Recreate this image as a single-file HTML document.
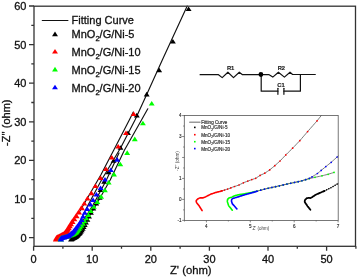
<!DOCTYPE html>
<html><head><meta charset="utf-8"><style>html,body{margin:0;padding:0;background:#fff;width:357px;height:277px;overflow:hidden;font-family:"Liberation Sans", sans-serif;}</style></head>
<body><svg width="357" height="277" viewBox="0 0 357 277" style="display:block;will-change:transform">
<rect width="357" height="277" fill="#fff"/>
<path d="M133.3 112 L129.3 120 L113.8 150 L100.8 175 L84 204 L80 211" fill="none" stroke="#111" stroke-width="1.15" stroke-linejoin="round" stroke-linecap="round" />
<path d="M187.2 6.1 L162.3 60 L146.7 94.4 L135 120 L120.7 147.8 L101.5 180 L88.1 205 L83 215 L78 226 L73 233 L70 236 L69.5 238" fill="none" stroke="#111" stroke-width="1.15" stroke-linejoin="round" stroke-linecap="round" />
<path d="M119 153 L106.4 180 L93 205 L88 213 L82 222 L76 230 L70 234 L64 236 L61 237.5" fill="none" stroke="#111" stroke-width="1.15" stroke-linejoin="round" stroke-linecap="round" />
<path d="M147.8 108.8 L141.5 120 L124.5 150 L110.2 180 L96 205 L90 215 L84 225 L78 232 L72 234.5 L65 236 L61 237.5" fill="none" stroke="#111" stroke-width="1.15" stroke-linejoin="round" stroke-linecap="round" />
<path d="M188.6 6.4L191.55 11L185.65 11ZM172.9 39L175.85 43.6L169.95 43.6ZM159.2 67.7L162.15 72.3L156.25 72.3ZM146.7 91.8L149.65 96.4L143.75 96.4ZM136.8 112.8L139.75 117.4L133.85 117.4ZM128 130.4L130.95 135L125.05 135ZM120.5 145.2L123.45 149.8L117.55 149.8ZM113.6 158.2L116.55 162.8L110.65 162.8ZM108.5 169.6L111.45 174.2L105.55 174.2ZM104.18 179.17L107.13 183.77L101.23 183.77ZM100.5 187.41L103.45 192.01L97.55 192.01ZM99.67 195.11L102.62 199.71L96.72 199.71ZM96.24 200.84L99.19 205.44L93.29 205.44ZM93.35 205.81L96.3 210.41L90.4 210.41ZM90.94 210.12L93.89 214.72L87.99 214.72ZM89.03 213.91L91.98 218.51L86.08 218.51ZM87.4 217.18L90.35 221.78L84.45 221.78ZM85.97 219.98L88.92 224.58L83.02 224.58ZM84.72 222.37L87.67 226.97L81.77 226.97ZM83.64 224.43L86.59 229.03L80.69 229.03ZM82.71 226.2L85.66 230.8L79.76 230.8ZM81.75 227.62L84.7 232.22L78.8 232.22ZM80.88 228.81L83.83 233.41L77.93 233.41ZM80.13 229.84L83.08 234.44L77.18 234.44ZM79.48 230.72L82.43 235.32L76.53 235.32ZM78.82 231.38L81.77 235.98L75.87 235.98ZM78.18 232.02L81.13 236.62L75.23 236.62ZM77.54 232.66L80.49 237.26L74.59 237.26ZM76.91 233.29L79.86 237.89L73.96 237.89ZM76.27 233.93L79.22 238.53L73.32 238.53ZM75.54 234.44L78.49 239.04L72.59 239.04ZM74.75 234.87L77.7 239.47L71.8 239.47ZM73.96 235.29L76.91 239.89L71.01 239.89ZM73.16 235.71L76.11 240.31L70.21 240.31ZM72.38 236.17L75.33 240.77L69.43 240.77ZM71.61 236.63L74.56 241.23L68.66 241.23ZM71 237L73.95 241.6L68.05 241.6Z" fill="#000"/>
<path d="M133.7 111.4L136.65 116L130.75 116ZM126 130.4L128.95 135L123.05 135ZM118.2 144L121.15 148.6L115.25 148.6ZM111.8 154.9L114.75 159.5L108.85 159.5ZM106 166.4L108.95 171L103.05 171ZM100.6 175.4L103.55 180L97.65 180ZM95.5 183.4L98.45 188L92.55 188ZM91.4 190.6L94.35 195.2L88.45 195.2ZM87.5 195.8L90.45 200.4L84.55 200.4ZM84.3 200.8L87.25 205.4L81.35 205.4ZM81.2 205.6L84.15 210.2L78.25 210.2ZM78.3 209.9L81.25 214.5L75.35 214.5ZM75.83 213.54L78.78 218.14L72.88 218.14ZM73.66 216.64L76.61 221.24L70.71 221.24ZM71.78 219.3L74.73 223.9L68.83 223.9ZM70.29 221.66L73.24 226.26L67.34 226.26ZM69.1 223.75L72.05 228.35L66.15 228.35ZM68.08 225.55L71.03 230.15L65.13 230.15ZM67.12 227.05L70.07 231.65L64.17 231.65ZM66.21 228.28L69.16 232.88L63.26 232.88ZM65.43 229.34L68.38 233.94L62.48 233.94ZM64.75 230.25L67.7 234.85L61.8 234.85ZM64.16 231.02L67.11 235.62L61.21 235.62ZM63.37 231.44L66.32 236.04L60.42 236.04ZM62.57 231.86L65.52 236.46L59.62 236.46ZM61.78 232.29L64.73 236.89L58.83 236.89ZM60.98 232.71L63.93 237.31L58.03 237.31ZM60.19 233.13L63.14 237.73L57.24 237.73ZM59.39 233.55L62.34 238.15L56.44 238.15ZM58.59 233.96L61.54 238.56L55.64 238.56ZM57.78 234.36L60.73 238.96L54.83 238.96ZM56.98 234.76L59.93 239.36L54.03 239.36ZM56.37 235.34L59.32 239.94L53.42 239.94ZM56.06 236.19L59.01 240.79L53.11 240.79ZM55.8 236.9L58.75 241.5L52.85 241.5ZM82 205.6L84.95 210.2L79.05 210.2ZM79.1 209.9L82.05 214.5L76.15 214.5ZM76.63 213.54L79.58 218.14L73.68 218.14ZM74.46 216.64L77.41 221.24L71.51 221.24ZM72.58 219.3L75.53 223.9L69.63 223.9ZM71.09 221.66L74.04 226.26L68.14 226.26ZM69.9 223.75L72.85 228.35L66.95 228.35ZM68.88 225.55L71.83 230.15L65.93 230.15ZM67.92 227.05L70.87 231.65L64.97 231.65ZM67.01 228.28L69.96 232.88L64.06 232.88ZM66.23 229.34L69.18 233.94L63.28 233.94ZM65.55 230.25L68.5 234.85L62.6 234.85Z" fill="#ff0000"/>
<path d="M151.7 101L154.65 105.6L148.75 105.6ZM142.9 120.7L145.85 125.3L139.95 125.3ZM134.8 136.6L137.75 141.2L131.85 141.2ZM127.2 150.3L130.15 154.9L124.25 154.9ZM120.3 161.7L123.25 166.3L117.35 166.3ZM114 171.8L116.95 176.4L111.05 176.4ZM108.7 180L111.65 184.6L105.75 184.6ZM104.9 187.6L107.85 192.2L101.95 192.2ZM101.1 194.1L104.05 198.7L98.15 198.7ZM97.3 199.3L100.25 203.9L94.35 203.9ZM93.8 204.2L96.75 208.8L90.85 208.8ZM90.8 208.5L93.75 213.1L87.85 213.1ZM88.32 212.37L91.27 216.97L85.37 216.97ZM86.27 215.76L89.22 220.36L83.32 220.36ZM84.51 218.67L87.46 223.27L81.56 223.27ZM82.97 221.16L85.92 225.76L80.02 225.76ZM81.41 223.13L84.36 227.73L78.46 227.73ZM80.06 224.82L83.01 229.42L77.11 229.42ZM78.94 226.3L81.89 230.9L75.99 230.9ZM77.99 227.59L80.94 232.19L75.04 232.19ZM77.17 228.7L80.12 233.3L74.22 233.3ZM76.34 229.53L79.29 234.13L73.39 234.13ZM75.52 230.12L78.47 234.72L72.57 234.72ZM74.78 230.64L77.73 235.24L71.83 235.24ZM74.05 231.16L77 235.76L71.1 235.76ZM73.24 231.54L76.19 236.14L70.29 236.14ZM72.42 231.91L75.37 236.51L69.47 236.51ZM71.59 232.28L74.54 236.88L68.64 236.88ZM70.77 232.65L73.72 237.25L67.82 237.25ZM69.95 233.01L72.9 237.61L67 237.61ZM69.09 233.27L72.04 237.87L66.14 237.87ZM68.23 233.53L71.18 238.13L65.28 238.13ZM67.36 233.79L70.31 238.39L64.41 238.39ZM66.5 234.05L69.45 238.65L63.55 238.65ZM65.63 234.28L68.58 238.88L62.68 238.88ZM64.76 234.48L67.71 239.08L61.81 239.08ZM63.88 234.68L66.83 239.28L60.93 239.28ZM63 234.89L65.95 239.49L60.05 239.49ZM62.14 235.14L65.09 239.74L59.19 239.74ZM61.31 235.48L64.26 240.08L58.36 240.08ZM60.49 235.83L63.44 240.43L57.54 240.43ZM60.49 236.63L63.44 241.23L57.54 241.23ZM60.8 237L63.75 241.6L57.85 241.6Z" fill="#00ff00"/>
<path d="M117.2 157.1L120.15 161.7L114.25 161.7ZM110.8 167.4L113.75 172L107.85 172ZM105 176.9L107.95 181.5L102.05 181.5ZM100.6 185.4L103.55 190L97.65 190ZM96.4 191.9L99.35 196.5L93.45 196.5ZM93.1 197.4L96.05 202L90.15 202ZM90.4 201.8L93.35 206.4L87.45 206.4ZM87.2 206.3L90.15 210.9L84.25 210.9ZM84.8 210.2L87.75 214.8L81.85 214.8ZM83.06 214.02L86.01 218.62L80.11 218.62ZM81.57 217.31L84.52 221.91L78.62 221.91ZM79.91 219.93L82.86 224.53L76.96 224.53ZM78.4 222.13L81.35 226.73L75.45 226.73ZM77.1 224.02L80.05 228.62L74.15 228.62ZM75.92 225.61L78.87 230.21L72.97 230.21ZM74.87 226.95L77.82 231.55L71.92 231.55ZM73.98 228.1L76.93 232.7L71.03 232.7ZM73.2 229.1L76.15 233.7L70.25 233.7ZM72.54 229.95L75.49 234.55L69.59 234.55ZM71.83 230.54L74.78 235.14L68.88 235.14ZM71.12 231.1L74.07 235.7L68.17 235.7ZM70.42 231.66L73.37 236.26L67.47 236.26ZM69.72 232.23L72.67 236.83L66.77 236.83ZM69.01 232.79L71.96 237.39L66.06 237.39ZM68.31 233.35L71.26 237.95L65.36 237.95ZM67.52 233.74L70.47 238.34L64.57 238.34ZM66.66 234L69.61 238.6L63.71 238.6ZM65.8 234.26L68.75 238.86L62.85 238.86ZM64.93 234.52L67.88 239.12L61.98 239.12ZM64.07 234.78L67.02 239.38L61.12 239.38ZM63.19 234.98L66.14 239.58L60.24 239.58ZM62.32 235.17L65.27 239.77L59.37 239.77ZM61.44 235.37L64.39 239.97L58.49 239.97ZM60.8 235.97L63.75 240.57L57.85 240.57ZM60.96 236.68L63.91 241.28L58.01 241.28ZM61.2 237L64.15 241.6L58.25 241.6Z" fill="#0000ff"/>
<rect x="34" y="6.2" width="321.5" height="240.10000000000002" fill="none" stroke="#333" stroke-width="1.3"/>
<path d="M29 237.6H34M31.3 218.3H34M29 199H34M31.3 179.7H34M29 160.4H34M31.3 141.1H34M29 121.8H34M31.3 102.5H34M29 83.2H34M31.3 63.9H34M29 44.6H34M31.3 25.3H34M29 6H34M33.6 246.3V250.8M62.9 246.3V248.8M92.2 246.3V250.8M121.5 246.3V248.8M150.8 246.3V250.8M180.1 246.3V248.8M209.4 246.3V250.8M238.7 246.3V248.8M268 246.3V250.8M297.3 246.3V248.8M326.6 246.3V250.8M355.9 246.3V248.8" stroke="#333" stroke-width="1.3" fill="none"/>
<text x="26.5" y="241.6" font-size="11" text-anchor="end" fill="#111" stroke="#111" stroke-width="0.3" font-family='"Liberation Sans", sans-serif'>0</text>
<text x="26.5" y="203" font-size="11" text-anchor="end" fill="#111" stroke="#111" stroke-width="0.3" font-family='"Liberation Sans", sans-serif'>10</text>
<text x="26.5" y="164.4" font-size="11" text-anchor="end" fill="#111" stroke="#111" stroke-width="0.3" font-family='"Liberation Sans", sans-serif'>20</text>
<text x="26.5" y="125.8" font-size="11" text-anchor="end" fill="#111" stroke="#111" stroke-width="0.3" font-family='"Liberation Sans", sans-serif'>30</text>
<text x="26.5" y="87.2" font-size="11" text-anchor="end" fill="#111" stroke="#111" stroke-width="0.3" font-family='"Liberation Sans", sans-serif'>40</text>
<text x="26.5" y="48.6" font-size="11" text-anchor="end" fill="#111" stroke="#111" stroke-width="0.3" font-family='"Liberation Sans", sans-serif'>50</text>
<text x="26.5" y="10" font-size="11" text-anchor="end" fill="#111" stroke="#111" stroke-width="0.3" font-family='"Liberation Sans", sans-serif'>60</text>
<text x="33.6" y="263.3" font-size="11" text-anchor="middle" fill="#111" stroke="#111" stroke-width="0.3" font-family='"Liberation Sans", sans-serif'>0</text>
<text x="92.2" y="263.3" font-size="11" text-anchor="middle" fill="#111" stroke="#111" stroke-width="0.3" font-family='"Liberation Sans", sans-serif'>10</text>
<text x="150.8" y="263.3" font-size="11" text-anchor="middle" fill="#111" stroke="#111" stroke-width="0.3" font-family='"Liberation Sans", sans-serif'>20</text>
<text x="209.4" y="263.3" font-size="11" text-anchor="middle" fill="#111" stroke="#111" stroke-width="0.3" font-family='"Liberation Sans", sans-serif'>30</text>
<text x="268" y="263.3" font-size="11" text-anchor="middle" fill="#111" stroke="#111" stroke-width="0.3" font-family='"Liberation Sans", sans-serif'>40</text>
<text x="326.6" y="263.3" font-size="11" text-anchor="middle" fill="#111" stroke="#111" stroke-width="0.3" font-family='"Liberation Sans", sans-serif'>50</text>
<text x="190.8" y="274" font-size="11.3" text-anchor="middle" fill="#111" stroke="#111" stroke-width="0.3" font-family='"Liberation Sans", sans-serif'>Z' (ohm)</text>
<text transform="translate(10.2,122.7) rotate(-90)" font-size="11" text-anchor="middle" fill="#111" stroke="#111" stroke-width="0.3" font-family='"Liberation Sans", sans-serif'>-Z'' (ohm)</text>
<path d="M42.3 20.5 L67.9 20.5" fill="none" stroke="#111" stroke-width="1.2" stroke-linejoin="round" stroke-linecap="round" />
<text x="71.6" y="24.1" font-size="11" fill="#111" stroke="#111" stroke-width="0.3" font-family='"Liberation Sans", sans-serif'>Fitting Curve</text>
<path d="M55 31.6L57.95 36.2L52.05 36.2Z" fill="#000"/>
<text x="71.6" y="38.4" font-size="11" fill="#111" stroke="#111" stroke-width="0.3" font-family='"Liberation Sans", sans-serif'>MnO<tspan font-size="7.5" dy="3">2</tspan><tspan dy="-3">/G/Ni-5</tspan></text>
<path d="M55 49L57.95 53.6L52.05 53.6Z" fill="#ff0000"/>
<text x="71.6" y="56.2" font-size="11" fill="#111" stroke="#111" stroke-width="0.3" font-family='"Liberation Sans", sans-serif'>MnO<tspan font-size="7.5" dy="3">2</tspan><tspan dy="-3">/G/Ni-10</tspan></text>
<path d="M55 66.8L57.95 71.4L52.05 71.4Z" fill="#00ff00"/>
<text x="71.6" y="74" font-size="11" fill="#111" stroke="#111" stroke-width="0.3" font-family='"Liberation Sans", sans-serif'>MnO<tspan font-size="7.5" dy="3">2</tspan><tspan dy="-3">/G/Ni-15</tspan></text>
<path d="M55 84.7L57.95 89.3L52.05 89.3Z" fill="#0000ff"/>
<text x="71.6" y="92" font-size="11" fill="#111" stroke="#111" stroke-width="0.3" font-family='"Liberation Sans", sans-serif'>MnO<tspan font-size="7.5" dy="3">2</tspan><tspan dy="-3">/G/Ni-20</tspan></text>
<path d="M200.1 74.7 L218.5 74.7 L222.2 77.6 L227.9 72.2 L233.5 77.6 L239.3 72.2 L242.5 74.7 L261 74.6 L268.7 74.5 L272.8 77.1 L278.4 72.2 L284.4 77.1 L290 72.2 L292.6 74.5 L315.3 74.5" fill="none" stroke="#111" stroke-width="1.2" stroke-linejoin="round" stroke-linecap="round" />
<path d="M261.2 74.5 L261.2 91.2 L277.9 91.2" fill="none" stroke="#111" stroke-width="1.2" stroke-linejoin="round" stroke-linecap="round" />
<path d="M283.9 91.2 L300.4 91.2 L300.4 74.5" fill="none" stroke="#111" stroke-width="1.2" stroke-linejoin="round" stroke-linecap="round" />
<path d="M277.9 88.3 L277.9 94.3" fill="none" stroke="#111" stroke-width="1.2" stroke-linejoin="round" stroke-linecap="round" />
<path d="M283.9 88.3 L283.9 94.3" fill="none" stroke="#111" stroke-width="1.2" stroke-linejoin="round" stroke-linecap="round" />
<circle cx="260.9" cy="74.5" r="2.4" fill="#000"/>
<text x="230.6" y="69.7" font-size="5.8" font-weight="bold" text-anchor="middle" fill="#222" stroke="#222" stroke-width="0.15" font-family='"Liberation Sans", sans-serif'>R1</text>
<text x="281.4" y="69.5" font-size="5.8" font-weight="bold" text-anchor="middle" fill="#222" stroke="#222" stroke-width="0.15" font-family='"Liberation Sans", sans-serif'>R2</text>
<text x="281" y="86.6" font-size="5.8" font-weight="bold" text-anchor="middle" fill="#222" stroke="#222" stroke-width="0.15" font-family='"Liberation Sans", sans-serif'>C1</text>
<path d="M220.08 191.4 L222.15 190.78 L224.22 190.16 L226.27 189.49 L228.32 188.82 L230.34 188.06 L232.35 187.27 L234.38 186.54 L236.42 185.86 L238.47 185.18 L240.43 184.28 L242.36 183.32 L244.32 182.41 L246.34 181.65 L248.36 180.89 L250.38 180.13 L252.41 179.4 L254.45 178.72 L256.4 177.84 L258.21 176.65 L260.01 175.46 L261.95 174.53 L263.91 173.62 L265.77 172.54 L267.56 171.34 L269.35 170.13 L271.04 168.79 L272.71 167.42 L274.37 166.05 L275.99 164.62 L277.59 163.18 L279.19 161.73 L280.74 160.22 L282.22 158.66 L283.71 157.1 L285.2 155.53 L286.72 154 L288.25 152.48 L289.79 150.97 L291.33 149.45 L292.86 147.93 L294.35 146.38 L295.85 144.82 L297.34 143.26 L298.83 141.71 L300.3 140.12 L301.7 138.48 L303.11 136.84 L304.51 135.21 L305.91 133.57 L307.32 131.93 L308.74 130.3 L310.16 128.68 L311.59 127.06 L313.02 125.44 L314.44 123.82 L315.87 122.2 L317.28 120.57 L318.62 118.88 L319.96 117.19 L321.3 115.5" fill="none" stroke="#6a6a6a" stroke-width="0.9" stroke-linejoin="round" stroke-linecap="round" />
<path d="M202.1 210.6 L201.75 210.04 L201.39 209.47 L201.04 208.91 L200.68 208.35 L200.33 207.79 L199.97 207.22 L199.62 206.66 L199.26 206.1 L198.86 205.56 L198.46 205.04 L198.05 204.51 L197.64 203.98 L197.24 203.46 L196.83 202.93 L196.47 202.38 L196.32 201.73 L196.17 201.08 L196.34 200.51 L196.76 200 L197.18 199.48 L197.65 199.02 L198.24 198.71 L198.83 198.41 L199.42 198.1 L200.04 197.9 L200.7 197.9 L201.37 197.9 L202.03 197.9 L202.7 197.9 L203.32 197.66 L203.94 197.43 L204.56 197.19 L205.19 196.96 L205.8 196.7 L206.39 196.4 L206.99 196.11 L207.59 195.81 L208.18 195.51 L208.78 195.21 L209.37 194.91 L209.97 194.62 L210.58 194.35 L211.2 194.11 L211.82 193.87 L212.44 193.63 L213.05 193.38 L213.67 193.14 L214.29 192.9 L214.92 192.67 L215.57 192.52 L216.21 192.36 L216.86 192.21 L217.51 192.05 L218.16 191.9 L218.8 191.74 L219.45 191.59 L220.09 191.4 L220.72 191.21 L221.36 191.02 L222 190.83" fill="none" stroke="#ff0000" stroke-width="1.6" stroke-linejoin="round" stroke-linecap="round" />
<circle cx="222" cy="190.83" r="0.85" fill="#ff0000"/><circle cx="224.5" cy="190.07" r="0.85" fill="#ff0000"/><circle cx="227.6" cy="189.06" r="0.85" fill="#ff0000"/><circle cx="230.8" cy="187.88" r="0.85" fill="#ff0000"/><circle cx="234.5" cy="186.5" r="0.85" fill="#ff0000"/><circle cx="239" cy="185" r="0.85" fill="#ff0000"/><circle cx="243.4" cy="182.8" r="0.85" fill="#ff0000"/><circle cx="247.8" cy="181.1" r="0.85" fill="#ff0000"/><circle cx="251.8" cy="179.6" r="0.85" fill="#ff0000"/><circle cx="255.7" cy="178.3" r="0.85" fill="#ff0000"/><circle cx="260.1" cy="175.4" r="0.85" fill="#ff0000"/><circle cx="264.8" cy="173.2" r="0.85" fill="#ff0000"/><circle cx="269.7" cy="169.9" r="0.85" fill="#ff0000"/><circle cx="274.8" cy="165.7" r="0.85" fill="#ff0000"/><circle cx="280" cy="161" r="0.85" fill="#ff0000"/><circle cx="285.8" cy="154.9" r="0.85" fill="#ff0000"/><circle cx="292.6" cy="148.2" r="0.85" fill="#ff0000"/><circle cx="299.8" cy="140.7" r="0.85" fill="#ff0000"/><circle cx="307.6" cy="131.6" r="0.85" fill="#ff0000"/><circle cx="317.1" cy="120.8" r="0.85" fill="#ff0000"/>
<path d="M253.05 192.09 L254.4 191.77 L255.76 191.46 L257.11 191.14 L258.45 190.79 L259.8 190.43 L261.14 190.07 L262.48 189.72 L263.83 189.36 L265.17 189.01 L266.51 188.66 L267.86 188.34 L269.22 188.04 L270.58 187.75 L271.94 187.46 L273.29 187.16 L274.65 186.87 L276.01 186.58 L277.37 186.27 L278.72 185.96 L280.08 185.66 L281.43 185.35 L282.79 185.05 L284.14 184.74 L285.49 184.43 L286.85 184.12 L288.2 183.81 L289.56 183.5 L290.91 183.21 L292.27 182.92 L293.63 182.63 L294.99 182.34 L296.35 182.06 L297.71 181.77 L299.07 181.48 L300.43 181.19 L301.76 180.79 L303.09 180.4 L304.42 180 L305.75 179.6 L307.08 179.2 L308.42 178.83 L309.77 178.51 L311.13 178.2 L312.48 177.88 L313.83 177.57 L315.19 177.26 L316.54 176.97 L317.9 176.68 L319.26 176.39 L320.62 176.1 L321.98 175.8 L323.33 175.47 L324.68 175.14 L326.03 174.81 L327.37 174.48 L328.71 174.1 L330.03 173.68 L331.36 173.25 L332.68 172.83 L334 172.4" fill="none" stroke="#6a6a6a" stroke-width="0.9" stroke-linejoin="round" stroke-linecap="round" />
<path d="M255.09 191.84 L256.56 191.38 L258.04 190.93 L259.52 190.49 L261.01 190.1 L262.5 189.71 L263.99 189.32 L265.48 188.92 L266.98 188.53 L268.48 188.2 L269.99 187.88 L271.5 187.55 L273.01 187.23 L274.51 186.9 L276.02 186.57 L277.53 186.23 L279.03 185.89 L280.53 185.56 L282.04 185.22 L283.54 184.88 L285.05 184.53 L286.55 184.19 L288.06 183.84 L289.56 183.5 L291.07 183.17 L292.58 182.86 L294.09 182.54 L295.59 182.22 L297.1 181.9 L298.61 181.58 L300.12 181.26 L301.61 180.84 L303.08 180.4 L304.56 179.96 L306.04 179.52 L307.52 179.07 L308.93 178.47 L310.3 177.77 L311.68 177.07 L313 176.27 L314.3 175.45 L315.61 174.63 L316.91 173.81 L318.15 172.89 L319.35 171.91 L320.54 170.94 L321.73 169.96 L322.92 168.98 L324.11 167.99 L325.3 167.01 L326.5 166.04 L327.71 165.08 L328.91 164.12 L330.12 163.16 L331.32 162.19 L332.47 161.16 L333.62 160.13 L334.76 159.1 L335.91 158.07 L337.06 157.04 L338.2 156" fill="none" stroke="#6a6a6a" stroke-width="0.9" stroke-linejoin="round" stroke-linecap="round" />
<path d="M232.3 210.2 L231.87 209.66 L231.44 209.13 L231.01 208.59 L230.58 208.06 L230.15 207.52 L229.72 206.99 L229.29 206.45 L228.86 205.92 L228.52 205.33 L228.31 204.68 L228.1 204.03 L227.89 203.37 L227.69 202.72 L227.48 202.06 L227.31 201.4 L227.41 200.72 L227.5 200.04 L227.59 199.36 L228.06 198.87 L228.56 198.41 L229.08 197.98 L229.74 197.78 L230.4 197.59 L231.06 197.4 L231.71 197.16 L232.33 196.87 L232.95 196.59 L233.58 196.3 L234.2 196.01 L234.83 195.73 L235.47 195.51 L236.14 195.35 L236.81 195.18 L237.48 195.02 L238.14 194.86 L238.81 194.7 L239.49 194.6 L240.17 194.5 L240.85 194.4 L241.53 194.3 L242.21 194.2 L242.89 194.11 L243.57 194.01 L244.25 193.91 L244.92 193.77 L245.6 193.64 L246.27 193.5 L246.94 193.36 L247.62 193.23 L248.29 193.09 L248.96 192.96 L249.63 192.82 L250.31 192.68 L250.98 192.55 L251.65 192.41 L252.32 192.26 L252.99 192.1 L253.66 191.94 L254.33 191.79 L255 191.63" fill="none" stroke="#00ff00" stroke-width="1.6" stroke-linejoin="round" stroke-linecap="round" />
<circle cx="256.85" cy="191.2" r="0.85" fill="#00ff00"/><circle cx="260.57" cy="190.22" r="0.85" fill="#00ff00"/><circle cx="264.3" cy="189.24" r="0.85" fill="#00ff00"/><circle cx="268.03" cy="188.3" r="0.85" fill="#00ff00"/><circle cx="271.79" cy="187.49" r="0.85" fill="#00ff00"/><circle cx="275.55" cy="186.67" r="0.85" fill="#00ff00"/><circle cx="279.31" cy="185.83" r="0.85" fill="#00ff00"/><circle cx="283.07" cy="184.98" r="0.85" fill="#00ff00"/><circle cx="286.82" cy="184.13" r="0.85" fill="#00ff00"/><circle cx="290.58" cy="183.28" r="0.85" fill="#00ff00"/><circle cx="294.34" cy="182.48" r="0.85" fill="#00ff00"/><circle cx="298.11" cy="181.68" r="0.85" fill="#00ff00"/><circle cx="301.85" cy="180.77" r="0.85" fill="#00ff00"/><circle cx="305.53" cy="179.67" r="0.85" fill="#00ff00"/><circle cx="309.24" cy="178.64" r="0.85" fill="#00ff00"/>
<circle cx="315" cy="177.3" r="0.85" fill="#00ff00"/><circle cx="322" cy="175.8" r="0.85" fill="#00ff00"/><circle cx="328.1" cy="174.3" r="0.85" fill="#00ff00"/><circle cx="334" cy="172.4" r="0.85" fill="#00ff00"/>
<path d="M236.9 208.9 L236.48 208.42 L236.06 207.95 L235.64 207.47 L235.22 207 L234.8 206.52 L234.38 206.05 L233.96 205.57 L233.54 205.1 L233.11 204.62 L232.69 204.15 L232.29 203.66 L232.09 203.06 L231.89 202.46 L231.69 201.86 L231.48 201.25 L231.48 200.64 L231.63 200.02 L231.77 199.41 L232.22 198.98 L232.73 198.6 L233.28 198.32 L233.89 198.14 L234.5 197.97 L235.11 197.8 L235.72 197.61 L236.33 197.43 L236.94 197.25 L237.55 197.07 L238.16 196.89 L238.76 196.71 L239.36 196.5 L239.96 196.29 L240.56 196.08 L241.16 195.87 L241.76 195.66 L242.36 195.45 L242.97 195.27 L243.58 195.11 L244.19 194.94 L244.8 194.77 L245.42 194.6 L246.03 194.44 L246.64 194.27 L247.25 194.1 L247.87 193.94 L248.48 193.76 L249.09 193.59 L249.7 193.41 L250.31 193.24 L250.92 193.07 L251.53 192.89 L252.14 192.72 L252.75 192.54 L253.36 192.37 L253.97 192.19 L254.57 192 L255.18 191.81 L255.79 191.62 L256.39 191.44 L257 191.25" fill="none" stroke="#0000ff" stroke-width="1.6" stroke-linejoin="round" stroke-linecap="round" />
<circle cx="257" cy="191.25" r="0.85" fill="#0000ff"/><circle cx="260.7" cy="190.18" r="0.85" fill="#0000ff"/><circle cx="264.42" cy="189.2" r="0.85" fill="#0000ff"/><circle cx="268.16" cy="188.27" r="0.85" fill="#0000ff"/><circle cx="271.92" cy="187.46" r="0.85" fill="#0000ff"/><circle cx="275.68" cy="186.65" r="0.85" fill="#0000ff"/><circle cx="279.44" cy="185.8" r="0.85" fill="#0000ff"/><circle cx="283.2" cy="184.96" r="0.85" fill="#0000ff"/><circle cx="286.95" cy="184.1" r="0.85" fill="#0000ff"/><circle cx="290.7" cy="183.25" r="0.85" fill="#0000ff"/><circle cx="294.47" cy="182.45" r="0.85" fill="#0000ff"/><circle cx="298.24" cy="181.66" r="0.85" fill="#0000ff"/><circle cx="301.97" cy="180.73" r="0.85" fill="#0000ff"/><circle cx="305.66" cy="179.63" r="0.85" fill="#0000ff"/><circle cx="309.26" cy="178.31" r="0.85" fill="#0000ff"/>
<circle cx="312" cy="176.9" r="0.85" fill="#0000ff"/><circle cx="317.4" cy="173.5" r="0.85" fill="#0000ff"/><circle cx="321.2" cy="170.4" r="0.85" fill="#0000ff"/><circle cx="325.8" cy="166.6" r="0.85" fill="#0000ff"/><circle cx="331.2" cy="162.3" r="0.85" fill="#0000ff"/><circle cx="337.1" cy="157" r="0.85" fill="#0000ff"/>
<path d="M323.59 191.29 L323.84 191.18 L324.09 191.07 L324.34 190.95 L324.6 190.84 L324.85 190.73 L325.1 190.61 L325.35 190.5 L325.6 190.39 L325.85 190.27 L326.1 190.15 L326.35 190.02 L326.59 189.9 L326.84 189.77 L327.09 189.65 L327.33 189.52 L327.58 189.4 L327.82 189.27 L328.07 189.15 L328.32 189.02 L328.56 188.9 L328.81 188.77 L329.06 188.65 L329.3 188.52 L329.55 188.4 L329.79 188.27 L330.04 188.14 L330.29 188.02 L330.53 187.89 L330.78 187.77 L331.03 187.64 L331.27 187.52 L331.52 187.39 L331.76 187.27 L332.01 187.14 L332.25 187 L332.48 186.86 L332.72 186.72 L332.96 186.58 L333.2 186.44 L333.44 186.3 L333.67 186.16 L333.91 186.02 L334.15 185.88 L334.39 185.74 L334.63 185.6 L334.87 185.46 L335.1 185.32 L335.34 185.18 L335.58 185.04 L335.82 184.9 L336.06 184.76 L336.29 184.62 L336.53 184.48 L336.77 184.34 L337.01 184.2 L337.25 184.06 L337.49 183.92 L337.72 183.78 L337.96 183.64 L338.2 183.5" fill="none" stroke="#6a6a6a" stroke-width="0.9" stroke-linejoin="round" stroke-linecap="round" />
<path d="M310.4 209.7 L310.05 209.26 L309.69 208.83 L309.34 208.39 L308.98 207.95 L308.63 207.52 L308.28 207.08 L307.92 206.64 L307.57 206.21 L307.24 205.75 L306.93 205.28 L306.62 204.82 L306.31 204.35 L306 203.88 L305.69 203.41 L305.38 202.94 L305.07 202.47 L304.77 202 L304.75 201.46 L304.81 200.9 L304.87 200.34 L305.12 199.87 L305.5 199.46 L305.89 199.05 L306.28 198.65 L306.66 198.24 L307.2 198.13 L307.76 198.05 L308.32 197.97 L308.87 197.91 L309.43 197.98 L309.99 198.05 L310.53 198.03 L311.01 197.74 L311.5 197.46 L311.99 197.18 L312.47 196.89 L312.94 196.59 L313.41 196.28 L313.88 195.97 L314.35 195.67 L314.83 195.36 L315.3 195.06 L315.77 194.75 L316.26 194.49 L316.78 194.27 L317.3 194.04 L317.81 193.82 L318.33 193.6 L318.85 193.38 L319.36 193.16 L319.88 192.94 L320.39 192.72 L320.91 192.49 L321.42 192.26 L321.94 192.03 L322.45 191.8 L322.96 191.57 L323.47 191.34 L323.99 191.11 L324.5 190.88" fill="none" stroke="#000" stroke-width="1.8" stroke-linejoin="round" stroke-linecap="round" />
<circle cx="324.5" cy="190.88" r="0.8" fill="#000"/><circle cx="326.67" cy="189.86" r="0.8" fill="#000"/><circle cx="328.81" cy="188.77" r="0.8" fill="#000"/><circle cx="330.95" cy="187.68" r="0.8" fill="#000"/><circle cx="333.05" cy="186.53" r="0.8" fill="#000"/><circle cx="335.12" cy="185.31" r="0.8" fill="#000"/><circle cx="337.19" cy="184.09" r="0.8" fill="#000"/>
<rect x="184.3" y="115.5" width="153.89999999999998" height="104.9" fill="none" stroke="#555" stroke-width="0.8"/>
<path d="M182.1 220.36H184.3M183.1 209.88H184.3M182.1 199.4H184.3M183.1 188.92H184.3M182.1 178.44H184.3M183.1 167.96H184.3M182.1 157.48H184.3M183.1 147H184.3M182.1 136.52H184.3M183.1 126.04H184.3M182.1 115.56H184.3M184.45 220.4V221.5M206.4 220.4V222.4M228.35 220.4V221.5M250.3 220.4V222.4M272.25 220.4V221.5M294.2 220.4V222.4M316.15 220.4V221.5M338.1 220.4V222.4" stroke="#555" stroke-width="0.7" fill="none"/>
<text x="181.6" y="117.16" font-size="4.6" text-anchor="end" fill="#222" stroke="#222" stroke-width="0.12" font-family='"Liberation Sans", sans-serif'>4</text>
<text x="181.6" y="138.12" font-size="4.6" text-anchor="end" fill="#222" stroke="#222" stroke-width="0.12" font-family='"Liberation Sans", sans-serif'>3</text>
<text x="181.6" y="180.04" font-size="4.6" text-anchor="end" fill="#222" stroke="#222" stroke-width="0.12" font-family='"Liberation Sans", sans-serif'>1</text>
<text x="181.6" y="201" font-size="4.6" text-anchor="end" fill="#222" stroke="#222" stroke-width="0.12" font-family='"Liberation Sans", sans-serif'>0</text>
<text x="181.6" y="221.96" font-size="4.6" text-anchor="end" fill="#222" stroke="#222" stroke-width="0.12" font-family='"Liberation Sans", sans-serif'>-1</text>
<text x="206.4" y="227.8" font-size="4.6" text-anchor="middle" fill="#222" stroke="#222" stroke-width="0.12" font-family='"Liberation Sans", sans-serif'>4</text>
<text x="250.3" y="227.8" font-size="4.6" text-anchor="middle" fill="#222" stroke="#222" stroke-width="0.12" font-family='"Liberation Sans", sans-serif'>5</text>
<text x="294.2" y="227.8" font-size="4.6" text-anchor="middle" fill="#222" stroke="#222" stroke-width="0.12" font-family='"Liberation Sans", sans-serif'>6</text>
<text x="338.1" y="227.8" font-size="4.6" text-anchor="middle" fill="#222" stroke="#222" stroke-width="0.12" font-family='"Liberation Sans", sans-serif'>7</text>
<text x="252.6" y="229.7" font-size="4.55" fill="#444" font-family='"Liberation Sans", sans-serif'>Z' (ohm)</text>
<text transform="translate(179.4,161) rotate(-90)" font-size="4.7" text-anchor="middle" fill="#444" font-family='"Liberation Sans", sans-serif'>-Z'' (ohm)</text>
<path d="M189.8 122.3 L199.9 122.3" fill="none" stroke="#999" stroke-width="1.6" stroke-linejoin="round" stroke-linecap="round" />
<text x="201.2" y="124.1" font-size="4.6" fill="#333" stroke="#333" stroke-width="0.18" font-family='"Liberation Sans", sans-serif'>Fitting Curve</text>
<rect x="194" y="126.6" width="1.6" height="1.6" fill="#000"/>
<text x="201.2" y="129.4" font-size="4.6" fill="#333" stroke="#333" stroke-width="0.18" font-family='"Liberation Sans", sans-serif'>MnO<tspan font-size="3.2" dy="1.2">2</tspan><tspan dy="-1.2">/G/Ni-5</tspan></text>
<rect x="194" y="133.9" width="1.6" height="1.6" fill="#ff0000"/>
<text x="201.2" y="136.7" font-size="4.6" fill="#333" stroke="#333" stroke-width="0.18" font-family='"Liberation Sans", sans-serif'>MnO<tspan font-size="3.2" dy="1.2">2</tspan><tspan dy="-1.2">/G/Ni-10</tspan></text>
<rect x="194" y="140.9" width="1.6" height="1.6" fill="#00ff00"/>
<text x="201.2" y="143.7" font-size="4.6" fill="#333" stroke="#333" stroke-width="0.18" font-family='"Liberation Sans", sans-serif'>MnO<tspan font-size="3.2" dy="1.2">2</tspan><tspan dy="-1.2">/G/Ni-15</tspan></text>
<rect x="194" y="147.8" width="1.6" height="1.6" fill="#0000ff"/>
<text x="201.2" y="150.6" font-size="4.6" fill="#333" stroke="#333" stroke-width="0.18" font-family='"Liberation Sans", sans-serif'>MnO<tspan font-size="3.2" dy="1.2">2</tspan><tspan dy="-1.2">/G/Ni-20</tspan></text>
</svg></body></html>
